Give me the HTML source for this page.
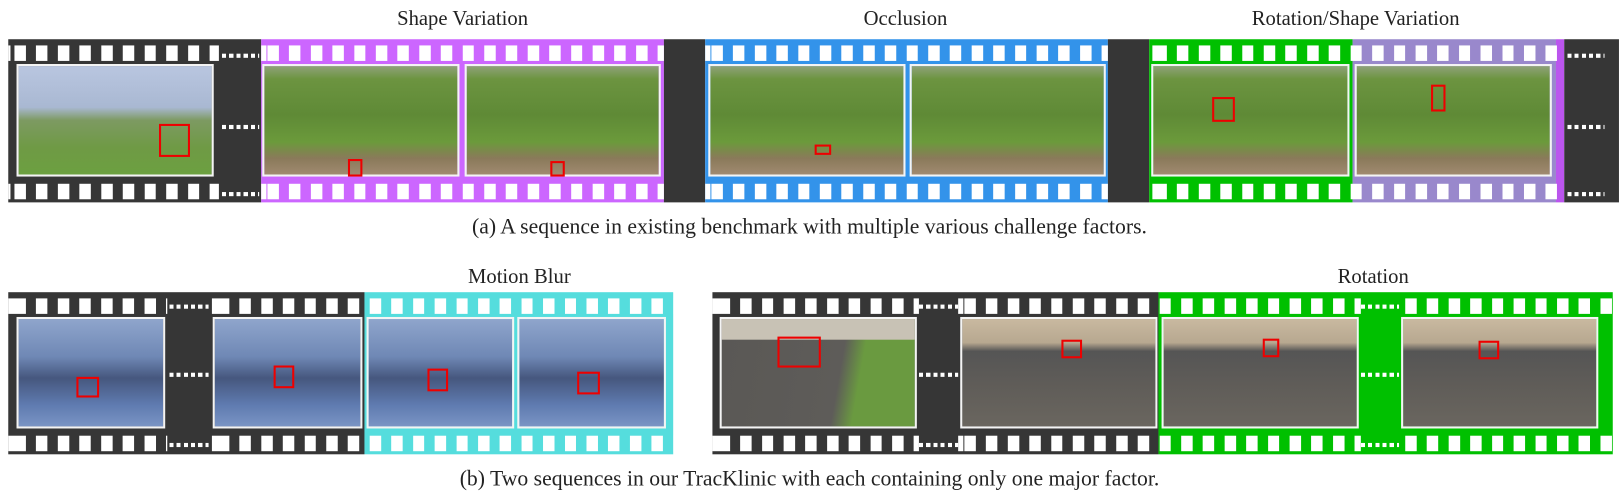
<!DOCTYPE html>
<html><head><style>
body{margin:0;width:1619px;height:501px;background:#fff;position:relative;overflow:hidden;font-family:"Liberation Serif",serif;color:#222}
#w{position:absolute;left:0;top:0;width:1568px;height:486px;transform:scale(1.0325);transform-origin:0 0}
#w div{position:absolute}
.seg{top:0;bottom:0}
.holes{left:0;right:0;height:15px;background:repeating-linear-gradient(90deg,#fff 0 11px,transparent 11px 21px);background-position:6px 0}
.dots{height:4px;background:repeating-linear-gradient(90deg,#fff 0 4px,transparent 4px 7px)}
.fr{border:2px solid #f4f4f4;box-sizing:border-box}
.hill{background:linear-gradient(180deg,#8fa27a 0%,#6c9440 12%,#5f8a36 45%,#6b9a3b 70%,#8a7a5a 85%,#a08a70 100%)}
.hill2{background:linear-gradient(180deg,#b9c6e0 0%,#a9b8d2 38%,#7d9a62 50%,#6f9a45 75%,#6ca040 100%)}
.dog{background:linear-gradient(180deg,#c9b9a0 0%,#b7a890 22%,#555 30%,#5f5c58 60%,#6a665f 100%)}
.dog1{background:linear-gradient(100deg,#5a5855 0%,#5e5c59 60%,#6a9a40 70%,#6a9a40 100%)}
.street{background:linear-gradient(180deg,#8fa5cc 0%,#6f88b5 35%,#46577e 55%,#5f7bb0 80%,#7a94c4 100%)}
.bb{border:2px solid #e00;box-sizing:border-box}
.t{font-size:20px;white-space:nowrap;text-align:center;transform:translateX(-50%)}
</style></head><body><div id="w">
<div class="t" style="left:448px;top:7px">Shape Variation</div>
<div class="t" style="left:877px;top:7px">Occlusion</div>
<div class="t" style="left:1313px;top:7px">Rotation/Shape Variation</div>
<div class="t" style="left:784px;top:207px;font-size:21px">(a) A sequence in existing benchmark with multiple various challenge factors.</div>
<div class="t" style="left:503px;top:257px">Motion Blur</div>
<div class="t" style="left:1330px;top:257px">Rotation</div>
<div class="t" style="left:784px;top:451px;font-size:21px">(b) Two sequences in our TracKlinic with each containing only one major factor.</div>

<div style="left:8px;top:38px;width:1560px;height:158px;">
 <div class="seg" style="left:0;width:245px;background:#363636"></div>
 <div class="seg" style="left:245px;width:390px;background:#cc66ff"></div>
 <div class="seg" style="left:635px;width:40px;background:#363636"></div>
 <div class="seg" style="left:675px;width:390px;background:#3393ea"></div>
 <div class="seg" style="left:1065px;width:40px;background:#363636"></div>
 <div class="seg" style="left:1105px;width:197px;background:#00c000"></div>
 <div class="seg" style="left:1302px;width:197px;background:#9988cc"></div>
 <div class="seg" style="left:1499px;width:8px;background:#bb55ee"></div>
 <div class="seg" style="left:1507px;width:53px;background:#363636"></div>
 <div class="holes" style="top:6px;left:0;width:204px"></div>
 <div class="holes" style="top:140px;left:0;width:204px"></div>
 <div class="holes" style="top:6px;left:245px;width:390px"></div>
 <div class="holes" style="top:140px;left:245px;width:390px"></div>
 <div class="holes" style="top:6px;left:675px;width:390px"></div>
 <div class="holes" style="top:140px;left:675px;width:390px"></div>
 <div class="holes" style="top:6px;left:1105px;width:402px"></div>
 <div class="holes" style="top:140px;left:1105px;width:402px"></div>
 <div class="dots" style="top:14px;left:207px;width:36px"></div>
 <div class="dots" style="top:83px;left:207px;width:36px"></div>
 <div class="dots" style="top:148px;left:207px;width:36px"></div>
 <div class="dots" style="top:14px;left:1510px;width:36px"></div>
 <div class="dots" style="top:83px;left:1510px;width:36px"></div>
 <div class="dots" style="top:148px;left:1510px;width:36px"></div>
</div>
<div class="fr hill2" style="left:16px;top:62px;width:191px;height:109px"><div class="bb" style="left:136px;top:56px;width:30px;height:32px"></div></div>
<div class="fr hill" style="left:254px;top:62px;width:191px;height:109px"><div class="bb" style="left:81px;top:90px;width:14px;height:17px"></div></div>
<div class="fr hill" style="left:450px;top:62px;width:190px;height:109px"><div class="bb" style="left:81px;top:92px;width:14px;height:15px"></div></div>
<div class="fr hill" style="left:686px;top:62px;width:191px;height:109px"><div class="bb" style="left:101px;top:76px;width:16px;height:10px"></div></div>
<div class="fr hill" style="left:881px;top:62px;width:190px;height:109px"></div>
<div class="fr hill" style="left:1115px;top:62px;width:192px;height:109px"><div class="bb" style="left:57px;top:30px;width:22px;height:24px"></div></div>
<div class="fr hill" style="left:1312px;top:62px;width:191px;height:109px"><div class="bb" style="left:72px;top:18px;width:14px;height:26px"></div></div>

<div style="left:8px;top:283px;width:644px;height:157px">
 <div class="seg" style="left:0;width:345px;background:#363636"></div>
 <div class="seg" style="left:345px;width:299px;background:#55dddd"></div>
 <div class="holes" style="top:6px;left:0;width:154px"></div>
 <div class="holes" style="top:139px;left:0;width:154px"></div>
 <div class="holes" style="top:6px;left:197px;width:447px"></div>
 <div class="holes" style="top:139px;left:197px;width:447px"></div>
 <div class="dots" style="top:12px;left:156px;width:38px"></div>
 <div class="dots" style="top:78px;left:156px;width:38px"></div>
 <div class="dots" style="top:146px;left:156px;width:38px"></div>
</div>
<div class="fr street" style="left:16px;top:307px;width:144px;height:108px"><div class="bb" style="left:56px;top:56px;width:22px;height:20px"></div></div>
<div class="fr street" style="left:206px;top:307px;width:145px;height:108px"><div class="bb" style="left:57px;top:45px;width:20px;height:22px"></div></div>
<div class="fr street" style="left:355px;top:307px;width:143px;height:108px"><div class="bb" style="left:57px;top:48px;width:20px;height:22px"></div></div>
<div class="fr street" style="left:501px;top:307px;width:144px;height:108px"><div class="bb" style="left:56px;top:51px;width:22px;height:22px"></div></div>

<div style="left:690px;top:283px;width:872px;height:157px">
 <div class="seg" style="left:0;width:432px;background:#363636"></div>
 <div class="seg" style="left:432px;width:440px;background:#00c000"></div>
 <div class="holes" style="top:6px;left:0;width:200px"></div>
 <div class="holes" style="top:139px;left:0;width:200px"></div>
 <div class="holes" style="top:6px;left:238px;width:390px"></div>
 <div class="holes" style="top:139px;left:238px;width:390px"></div>
 <div class="holes" style="top:6px;left:665px;width:207px"></div>
 <div class="holes" style="top:139px;left:665px;width:207px"></div>
 <div class="dots" style="top:12px;left:200px;width:38px"></div>
 <div class="dots" style="top:78px;left:200px;width:38px"></div>
 <div class="dots" style="top:146px;left:200px;width:38px"></div>
 <div class="dots" style="top:12px;left:628px;width:37px"></div>
 <div class="dots" style="top:78px;left:628px;width:37px"></div>
 <div class="dots" style="top:146px;left:628px;width:37px"></div>
</div>
<div class="fr dog1" style="left:697px;top:307px;width:191px;height:108px"><div style="left:0;top:0;right:0;height:20px;background:#c8c2b5"></div><div class="bb" style="left:54px;top:17px;width:42px;height:30px"></div></div>
<div class="fr dog" style="left:930px;top:307px;width:191px;height:108px"><div class="bb" style="left:96px;top:20px;width:20px;height:18px"></div></div>
<div class="fr dog" style="left:1125px;top:307px;width:191px;height:108px"><div class="bb" style="left:96px;top:19px;width:16px;height:18px"></div></div>
<div class="fr dog" style="left:1357px;top:307px;width:191px;height:108px"><div class="bb" style="left:73px;top:21px;width:20px;height:18px"></div></div>
</div></body></html>
